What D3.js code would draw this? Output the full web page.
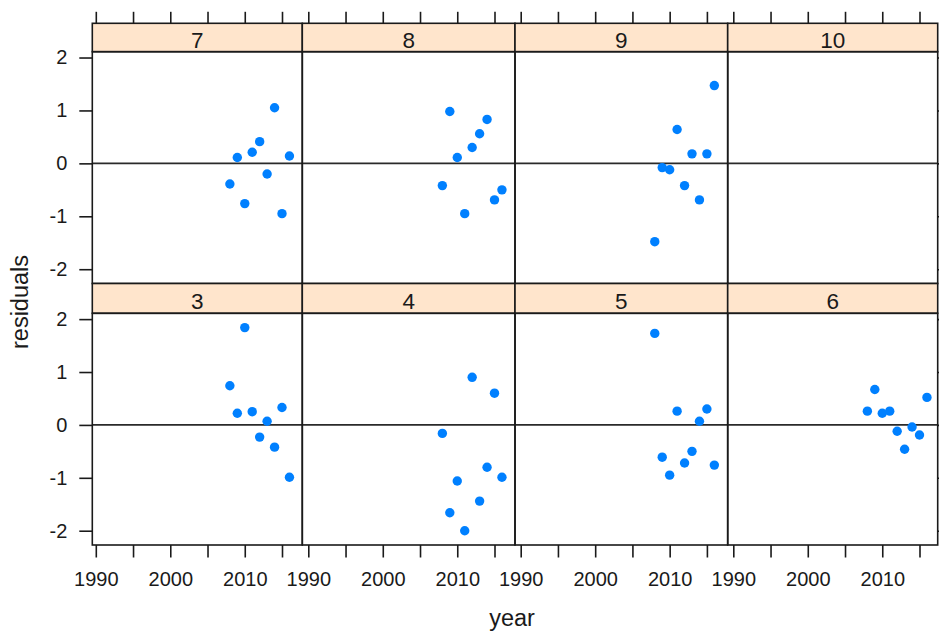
<!DOCTYPE html>
<html><head><meta charset="utf-8">
<script src="https://cdn.jsdelivr.net/npm/d3@7"></script>
<style>html,body{margin:0;padding:0;background:#fff;overflow:hidden}</style>
</head><body><svg id="c" width="939" height="635"></svg>
<script>
// ---- data ----
const years = [2008, 2009, 2010, 2011, 2012, 2013, 2014, 2015, 2016];
const topRowPanels = ["7", "8", "9", "10"];
const bottomRowPanels = ["3", "4", "5", "6"];
const res3  = [0.74, 0.22, 1.84, 0.25, -0.23, 0.07, -0.42, 0.33, -0.99];
const res4  = [-0.16, -1.66, -1.06, -2.00, 0.90, -1.44, -0.80, 0.60, -0.99];
const res5  = [1.73, -0.61, -0.95, 0.26, -0.72, -0.50, 0.07, 0.30, -0.76];
const res6  = [0.26, 0.67, 0.22, 0.26, -0.12, -0.46, -0.04, -0.19, 0.52];
const res7  = [-0.39, 0.11, -0.76, 0.21, 0.41, -0.20, 1.05, -0.95, 0.14];
const res8  = [-0.42, 0.98, 0.11, -0.95, 0.30, 0.56, 0.83, -0.69, -0.50];
const res9  = [-1.48, -0.08, -0.12, 0.64, -0.42, 0.18, -0.69, 0.18, 1.47];
const res10 = [];
const xTickValues = [1990, 1995, 2000, 2005, 2010, 2015];
const xTickLabels = ["1990", "", "2000", "", "2010", ""];
const yTickValues = [-2, -1, 0, 1, 2];
const yTickLabels = ["-2", "-1", "0", "1", "2"];
const xTitle = "year";
const yTitle = "residuals";

const seriesByPanel = {"3": res3, "4": res4, "5": res5, "6": res6,
                       "7": res7, "8": res8, "9": res9, "10": res10};
const rows = [topRowPanels, bottomRowPanels];

// ---- layout ----
const colLeft  = [92.3, 302.3, 515, 727.7];
const colRight = [302.3, 515, 727.7, 937.7];
const x1990    = [95.8, 308.3, 520.7, 733.3];
const pxPer25y = 186.2;
const stripTop = [23.3, 283.5];
const rowTop   = [51.7, 313.3];
const rowBot   = [283.5, 545];
const FONT = "'Liberation Sans', Arial, sans-serif";
const TXT = "#1a1a1a";
const LW = 1.6;

const svg = d3.select("#c");

const xScales = colLeft.map((l, c) =>
  d3.scaleLinear().domain([1990, 2015]).range([x1990[c], x1990[c] + pxPer25y]));
const yScales = rowTop.map((t, r) =>
  d3.scaleLinear().domain([-2.27, 2.11]).range([rowBot[r], rowTop[r]]));

const labelOf = (vals, labs) => v => labs[vals.indexOf(v)];

rows.forEach((panels, r) => {
  const y = yScales[r];
  panels.forEach((name, c) => {
    const x = xScales[c];
    const g = svg.append("g");
    // strip
    g.append("rect").attr("x", colLeft[c]).attr("y", stripTop[r])
      .attr("width", colRight[c] - colLeft[c]).attr("height", rowTop[r] - stripTop[r])
      .attr("fill", "#FFE5CC").attr("stroke", "#1a1a1a").attr("stroke-width", LW);
    g.append("text").attr("x", (colLeft[c] + colRight[c]) / 2).attr("y", rowTop[r] - 4)
      .attr("text-anchor", "middle").attr("font-family", FONT).attr("font-size", 22.5)
      .attr("fill", TXT).text(name);
    // zero reference line
    g.append("line").attr("x1", colLeft[c]).attr("x2", colRight[c])
      .attr("y1", y(0)).attr("y2", y(0))
      .attr("stroke", "#2a2a2a").attr("stroke-width", LW);
    // points
    const vals = seriesByPanel[name];
    g.selectAll("circle").data(vals.map((v, i) => ({year: years[i], v})))
      .enter().append("circle")
      .attr("cx", d => x(d.year)).attr("cy", d => y(d.v)).attr("r", 4.7)
      .attr("fill", "#0080ff");
    // panel border
    g.append("rect").attr("x", colLeft[c]).attr("y", rowTop[r])
      .attr("width", colRight[c] - colLeft[c]).attr("height", rowBot[r] - rowTop[r])
      .attr("fill", "none").attr("stroke", "#1a1a1a").attr("stroke-width", LW);
  });
});

function styleAxis(sel) {
  sel.select(".domain").remove();
  sel.selectAll(".tick line").attr("stroke", "#1a1a1a").attr("stroke-width", LW);
  sel.selectAll(".tick text").attr("font-family", FONT).attr("font-size", 20).attr("fill", TXT);
}

// x axes: top (ticks only) and bottom (ticks + labels)
xScales.forEach((x, c) => {
  svg.append("g").attr("transform", `translate(0,${stripTop[0]})`)
    .call(d3.axisTop(x).tickValues(xTickValues).tickFormat(() => "").tickSize(11.5).tickSizeOuter(0))
    .call(styleAxis);
  svg.append("g").attr("transform", `translate(0,${rowBot[1]})`)
    .call(d3.axisBottom(x).tickValues(xTickValues).tickFormat(labelOf(xTickValues, xTickLabels))
      .tickSize(12.5).tickPadding(14.5).tickSizeOuter(0))
    .call(styleAxis);
});

// y axes: left (labels) and right (ticks only)
yScales.forEach((y, r) => {
  svg.append("g").attr("transform", `translate(${colLeft[0]},0)`)
    .call(d3.axisLeft(y).tickValues(yTickValues).tickFormat(labelOf(yTickValues, yTickLabels))
      .tickSize(13).tickPadding(12).tickSizeOuter(0))
    .call(styleAxis);
  svg.append("g").attr("transform", `translate(${colRight[3]},0)`)
    .call(d3.axisRight(y).tickValues(yTickValues).tickFormat(() => "").tickSize(12).tickSizeOuter(0))
    .call(styleAxis);
});

// titles
svg.append("text").attr("x", 512).attr("y", 626).attr("text-anchor", "middle")
  .attr("font-family", FONT).attr("font-size", 23.5).attr("fill", TXT).text(xTitle);
svg.append("text").attr("transform", "translate(28,302) rotate(-90)").attr("text-anchor", "middle")
  .attr("font-family", FONT).attr("font-size", 23.5).attr("fill", TXT).text(yTitle);
</script>
</body></html>
